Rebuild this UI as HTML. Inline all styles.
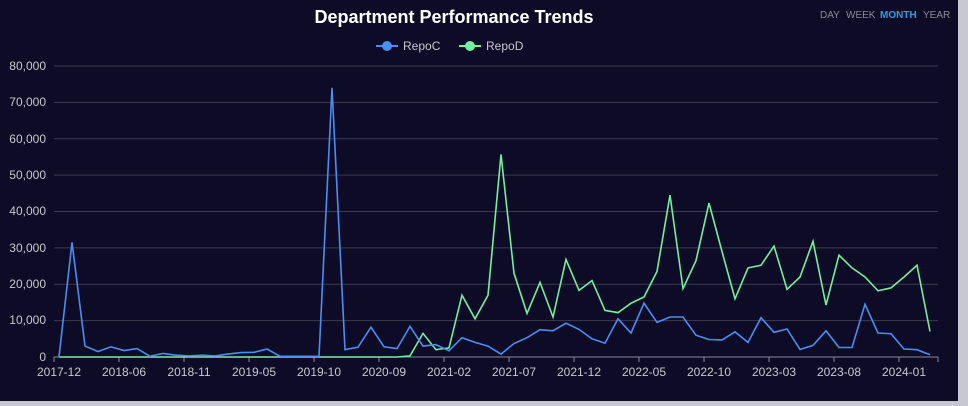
<!DOCTYPE html>
<html><head><meta charset="utf-8"><style>
html,body{margin:0;padding:0;background:#c8c8d0;}
svg{display:block;font-family:"Liberation Sans",sans-serif;}
</style></head><body>
<svg width="968" height="406" viewBox="0 0 968 406" xmlns="http://www.w3.org/2000/svg">
<rect x="0" y="0" width="958" height="401" fill="#0e0b26"/>
<text x="454" y="23" text-anchor="middle" fill="#ffffff" font-size="18" font-weight="bold">Department Performance Trends</text>
<text x="820" y="18" fill="#8a8a9a" font-size="10">DAY</text>
<text x="846" y="18" fill="#8a8a9a" font-size="10">WEEK</text>
<text x="880" y="18" fill="#2f9bea" font-size="10" font-weight="bold">MONTH</text>
<text x="923" y="18" fill="#8a8a9a" font-size="10">YEAR</text>
<line x1="376" y1="46" x2="398" y2="46" stroke="#4a8ef2" stroke-width="2"/><circle cx="387" cy="46" r="5" fill="#4a8ef2"/>
<text x="403" y="50" fill="#c8c8d0" font-size="12">RepoC</text>
<line x1="459" y1="46" x2="481" y2="46" stroke="#73f0a0" stroke-width="2"/><circle cx="470" cy="46" r="5" fill="#73f0a0"/>
<text x="486" y="50" fill="#c8c8d0" font-size="12">RepoD</text>
<g stroke="#3c3a4e" stroke-width="1">
<line x1="54" y1="66" x2="938" y2="66"/><line x1="54" y1="102.4" x2="938" y2="102.4"/><line x1="54" y1="138.8" x2="938" y2="138.8"/><line x1="54" y1="175.1" x2="938" y2="175.1"/><line x1="54" y1="211.5" x2="938" y2="211.5"/><line x1="54" y1="247.9" x2="938" y2="247.9"/><line x1="54" y1="284.3" x2="938" y2="284.3"/><line x1="54" y1="320.6" x2="938" y2="320.6"/>
</g>
<line x1="54" y1="357" x2="938" y2="357" stroke="#8a8a9a" stroke-width="1"/>
<g fill="#c8c8d0" font-size="12" text-anchor="end">
<text x="46" y="70">80,000</text><text x="46" y="106">70,000</text><text x="46" y="143">60,000</text><text x="46" y="179">50,000</text><text x="46" y="215">40,000</text><text x="46" y="252">30,000</text><text x="46" y="288">20,000</text><text x="46" y="324">10,000</text><text x="46" y="361">0</text>
</g>
<g fill="#c8c8d0" font-size="12" text-anchor="middle">
<text x="59" y="376">2017-12</text><text x="124" y="376">2018-06</text><text x="189" y="376">2018-11</text><text x="254" y="376">2019-05</text><text x="319" y="376">2019-10</text><text x="384" y="376">2020-09</text><text x="449" y="376">2021-02</text><text x="514" y="376">2021-07</text><text x="579" y="376">2021-12</text><text x="644" y="376">2022-05</text><text x="709" y="376">2022-10</text><text x="774" y="376">2023-03</text><text x="839" y="376">2023-08</text><text x="904" y="376">2024-01</text>
</g>
<g stroke="#8a8a9a"><line x1="54" y1="357" x2="54" y2="362"/><line x1="119" y1="357" x2="119" y2="362"/><line x1="184" y1="357" x2="184" y2="362"/><line x1="249" y1="357" x2="249" y2="362"/><line x1="314" y1="357" x2="314" y2="362"/><line x1="379" y1="357" x2="379" y2="362"/><line x1="444" y1="357" x2="444" y2="362"/><line x1="509" y1="357" x2="509" y2="362"/><line x1="574" y1="357" x2="574" y2="362"/><line x1="639" y1="357" x2="639" y2="362"/><line x1="704" y1="357" x2="704" y2="362"/><line x1="769" y1="357" x2="769" y2="362"/><line x1="834" y1="357" x2="834" y2="362"/><line x1="899" y1="357" x2="899" y2="362"/><line x1="938" y1="357" x2="938" y2="362"/></g>
<polyline id="d" fill="none" stroke="#73f0a0" stroke-width="1.6" points=""/>
<polyline id="c" fill="none" stroke="#4a8ef2" stroke-width="1.6" points=""/>
<script>
var C=[0,31500,3000,1500,2800,1800,2300,200,1000,500,300,500,300,800,1200,1300,2200,200,200,200,200,74000,2000,2700,8200,2800,2300,8400,3000,3400,1700,5300,4000,3000,800,3700,5300,7500,7200,9300,7600,5000,3800,10500,6600,14800,9500,11000,11000,6000,4800,4700,6900,4000,10800,6800,7700,2100,3200,7200,2600,2600,14500,6600,6400,2200,2000,600];
var D=[0,0,0,0,0,0,0,0,0,0,0,0,0,0,0,0,0,0,0,0,0,0,0,0,0,0,0,300,6500,2000,2500,17000,10500,17000,55700,23000,12000,20500,11000,26800,18300,21000,12800,12200,14800,16500,23500,44500,18800,26500,42300,29000,16000,24500,25200,30500,18600,22000,31800,14300,28000,24500,22000,18200,19000,22000,25200,7000];
function p(a){return a.map(function(v,i){return (59+13*i)+","+(357-v*291/80000).toFixed(1)}).join(" ")}
document.getElementById("c").setAttribute("points",p(C));
document.getElementById("d").setAttribute("points",p(D));
</script>
</svg>
</body></html>
